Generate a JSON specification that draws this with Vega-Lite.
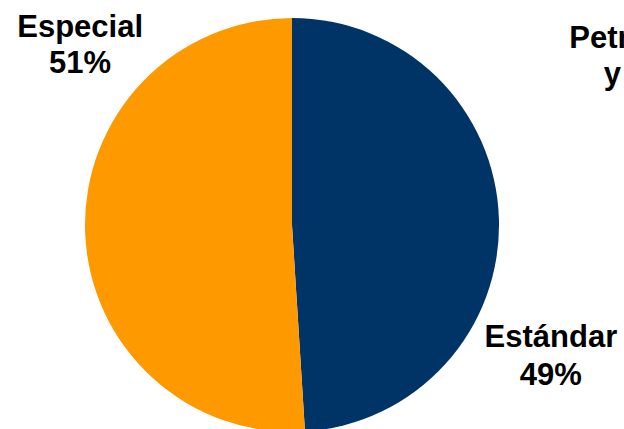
{
  "$schema": "https://vega.github.io/schema/vega-lite/v6.json",
  "width": 414,
  "height": 414,
  "autosize": {"type": "none"},
  "padding": {"left": 85, "top": 18, "right": 125, "bottom": 0},
  "background": "white",
  "config": {"view": {"stroke": null}},
  "data": {
    "values": [
      {"tipo": "Petroleros y Gas", "nombre": "Petroleros\ny Gas", "pct": 0, "orden": 1},
      {"tipo": "Estándar", "nombre": "Estándar", "pct": 49, "orden": 2},
      {"tipo": "Especial", "nombre": "Especial", "pct": 51, "orden": 3}
    ]
  },
  "transform": [
    {"stack": "pct", "groupby": [], "sort": [{"field": "orden", "order": "ascending"}], "as": ["t0", "t1"]},
    {"calculate": "(datum.t0 + datum.t1) / 2", "as": "mid"},
    {"calculate": "datum.nombre + '\\n' + datum.pct + '%'", "as": "label"}
  ],
  "layer": [
    {
      "mark": {"type": "arc", "outerRadius": 207},
      "encoding": {
        "theta": {"field": "t0", "type": "quantitative", "stack": null, "scale": {"domain": [0, 100]}},
        "theta2": {"field": "t1"},
        "color": {
          "field": "tipo",
          "type": "nominal",
          "scale": {"domain": ["Petroleros y Gas", "Estándar", "Especial"], "range": ["#7F7F7F", "#003366", "#FF9900"]},
          "legend": null
        }
      }
    },
    {
      "transform": [{"filter": "datum.tipo === 'Especial'"}],
      "mark": {"type": "text", "radius": 250, "dx": 38, "dy": -196, "font": "Liberation Sans", "fontSize": 31, "fontWeight": "bold", "lineBreak": "\n", "lineHeight": 36, "align": "center", "baseline": "alphabetic", "color": "black"},
      "encoding": {
        "theta": {"field": "mid", "type": "quantitative", "stack": null, "scale": {"domain": [0, 100]}},
        "text": {"field": "label", "type": "nominal"}
      }
    },
    {
      "transform": [{"filter": "datum.tipo === 'Estándar'"}],
      "mark": {"type": "text", "radius": 250, "dx": 9, "dy": 130, "font": "Liberation Sans", "fontSize": 31, "fontWeight": "bold", "lineBreak": "\n", "lineHeight": 38, "align": "center", "baseline": "alphabetic", "color": "black"},
      "encoding": {
        "theta": {"field": "mid", "type": "quantitative", "stack": null, "scale": {"domain": [0, 100]}},
        "text": {"field": "label", "type": "nominal"}
      }
    },
    {
      "transform": [{"filter": "datum.tipo === 'Petroleros y Gas'"}],
      "mark": {"type": "text", "radius": 250, "dx": 354, "dy": 73, "font": "Liberation Sans", "fontSize": 31, "fontWeight": "bold", "lineBreak": "\n", "lineHeight": 36, "align": "center", "baseline": "alphabetic", "color": "black"},
      "encoding": {
        "theta": {"field": "mid", "type": "quantitative", "stack": null, "scale": {"domain": [0, 100]}},
        "text": {"field": "label", "type": "nominal"}
      }
    }
  ]
}
